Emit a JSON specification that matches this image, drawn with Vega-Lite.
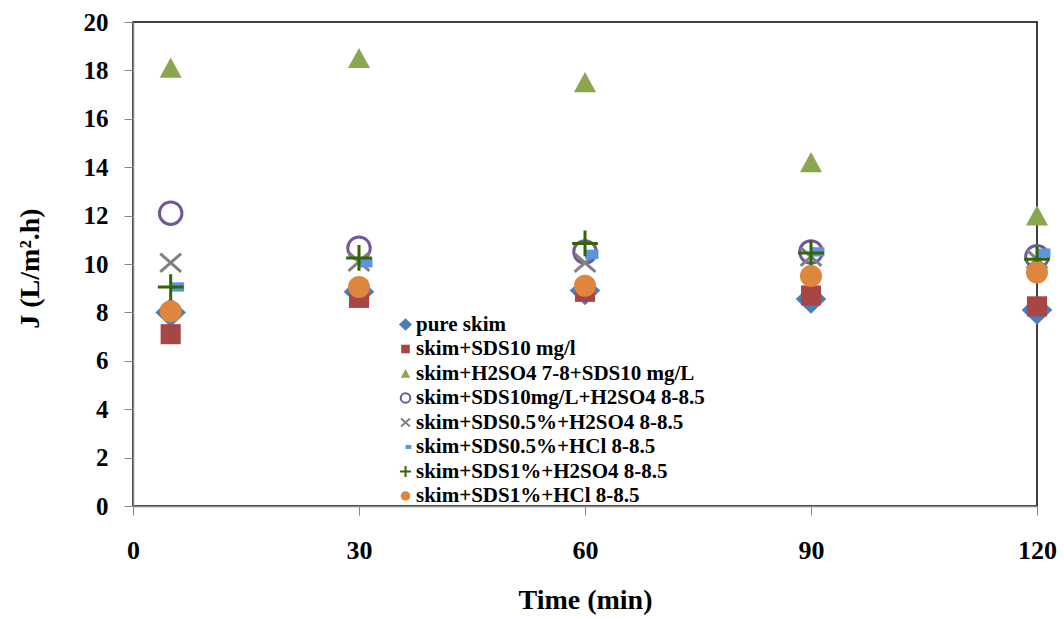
{
  "$schema": "https://vega.github.io/schema/vega-lite/v6.json",
  "autosize": "none",
  "width": 904,
  "height": 484,
  "padding": {"left": 133, "top": 22, "right": 27, "bottom": 113},
  "background": "white",
  "config": {
    "view": {"stroke": "black", "strokeWidth": 1.5},
    "font": "Liberation Serif"
  },
  "data": {
    "values": [
      {"t": 5, "J": 8.0, "s": "pure skim"},
      {"t": 30, "J": 8.85, "s": "pure skim"},
      {"t": 60, "J": 8.9, "s": "pure skim"},
      {"t": 90, "J": 8.55, "s": "pure skim"},
      {"t": 120, "J": 8.1, "s": "pure skim"},
      {"t": 5, "J": 7.1, "s": "skim+SDS10 mg/l"},
      {"t": 30, "J": 8.6, "s": "skim+SDS10 mg/l"},
      {"t": 60, "J": 8.85, "s": "skim+SDS10 mg/l"},
      {"t": 90, "J": 8.7, "s": "skim+SDS10 mg/l"},
      {"t": 120, "J": 8.25, "s": "skim+SDS10 mg/l"},
      {"t": 5, "J": 18.1, "s": "skim+H2SO4 7-8+SDS10 mg/L"},
      {"t": 30, "J": 18.5, "s": "skim+H2SO4 7-8+SDS10 mg/L"},
      {"t": 60, "J": 17.5, "s": "skim+H2SO4 7-8+SDS10 mg/L"},
      {"t": 90, "J": 14.2, "s": "skim+H2SO4 7-8+SDS10 mg/L"},
      {"t": 120, "J": 12.0, "s": "skim+H2SO4 7-8+SDS10 mg/L"},
      {"t": 5, "J": 12.1, "s": "skim+SDS10mg/L+H2SO4 8-8.5"},
      {"t": 30, "J": 10.65, "s": "skim+SDS10mg/L+H2SO4 8-8.5"},
      {"t": 60, "J": 10.5, "s": "skim+SDS10mg/L+H2SO4 8-8.5"},
      {"t": 90, "J": 10.5, "s": "skim+SDS10mg/L+H2SO4 8-8.5"},
      {"t": 120, "J": 10.3, "s": "skim+SDS10mg/L+H2SO4 8-8.5"},
      {"t": 5, "J": 10.05, "s": "skim+SDS0.5%+H2SO4 8-8.5"},
      {"t": 30, "J": 10.1, "s": "skim+SDS0.5%+H2SO4 8-8.5"},
      {"t": 60, "J": 10.05, "s": "skim+SDS0.5%+H2SO4 8-8.5"},
      {"t": 90, "J": 10.3, "s": "skim+SDS0.5%+H2SO4 8-8.5"},
      {"t": 120, "J": 10.2, "s": "skim+SDS0.5%+H2SO4 8-8.5"},
      {"t": 5, "J": 9.05, "s": "skim+SDS0.5%+HCl 8-8.5"},
      {"t": 30, "J": 10.05, "s": "skim+SDS0.5%+HCl 8-8.5"},
      {"t": 60, "J": 10.4, "s": "skim+SDS0.5%+HCl 8-8.5"},
      {"t": 90, "J": 10.5, "s": "skim+SDS0.5%+HCl 8-8.5"},
      {"t": 120, "J": 10.45, "s": "skim+SDS0.5%+HCl 8-8.5"},
      {"t": 5, "J": 9.05, "s": "skim+SDS1%+H2SO4 8-8.5"},
      {"t": 30, "J": 10.25, "s": "skim+SDS1%+H2SO4 8-8.5"},
      {"t": 60, "J": 10.85, "s": "skim+SDS1%+H2SO4 8-8.5"},
      {"t": 90, "J": 10.45, "s": "skim+SDS1%+H2SO4 8-8.5"},
      {"t": 120, "J": 10.2, "s": "skim+SDS1%+H2SO4 8-8.5"},
      {"t": 5, "J": 8.05, "s": "skim+SDS1%+HCl 8-8.5"},
      {"t": 30, "J": 9.05, "s": "skim+SDS1%+HCl 8-8.5"},
      {"t": 60, "J": 9.1, "s": "skim+SDS1%+HCl 8-8.5"},
      {"t": 90, "J": 9.5, "s": "skim+SDS1%+HCl 8-8.5"},
      {"t": 120, "J": 9.65, "s": "skim+SDS1%+HCl 8-8.5"}
    ]
  },
  "mark": {"type": "point", "size": 600, "strokeWidth": 3, "opacity": 1},
  "encoding": {
    "x": {
      "field": "t", "type": "quantitative",
      "scale": {"domain": [0, 120], "nice": false, "zero": false},
      "axis": {
        "values": [0, 30, 60, 90, 120], "grid": false,
        "title": "Time (min)", "titleFont": "Liberation Serif", "titleFontSize": 28, "titleFontWeight": "bold",
        "titleBaseline": "middle", "titleY": 94, "titleColor": "black",
        "labelFont": "Liberation Serif", "labelFontSize": 26, "labelFontWeight": "bold", "labelColor": "black",
        "labelPadding": 22, "labelFlush": false,
        "tickSize": 9, "tickColor": "#868686", "domainColor": "#868686", "domainWidth": 1.5
      }
    },
    "y": {
      "field": "J", "type": "quantitative",
      "scale": {"domain": [0, 20], "nice": false},
      "axis": {
        "values": [0, 2, 4, 6, 8, 10, 12, 14, 16, 18, 20], "grid": false,
        "title": "J (L/m².h)", "titleFont": "Liberation Serif", "titleFontSize": 28, "titleFontWeight": "bold",
        "titleColor": "black", "titleAngle": -90, "titleBaseline": "middle", "titleAlign": "center",
        "titleX": -103, "titleY": 246,
        "labelFont": "Liberation Serif", "labelFontSize": 25, "labelFontWeight": "bold", "labelColor": "black",
        "labelPadding": 16, "labelFlush": false,
        "tickSize": 9, "tickColor": "#868686", "domainColor": "#868686", "domainWidth": 1.5
      }
    },
    "shape": {
      "field": "s", "type": "nominal",
      "scale": {
        "domain": ["pure skim", "skim+SDS10 mg/l", "skim+H2SO4 7-8+SDS10 mg/L", "skim+SDS10mg/L+H2SO4 8-8.5", "skim+SDS0.5%+H2SO4 8-8.5", "skim+SDS0.5%+HCl 8-8.5", "skim+SDS1%+H2SO4 8-8.5", "skim+SDS1%+HCl 8-8.5"],
        "range": [
          "M-1.25,0L0,-1.2L1.25,0L0,1.2Z",
          "M-0.82,-0.82H0.82V0.82H-0.82Z",
          "M0,-0.85L0.9,0.8L-0.9,0.8Z",
          "M0.92,0A0.92,0.92,0,1,1,-0.92,0A0.92,0.92,0,1,1,0.92,0Z",
          "M-0.85,-0.75L0.85,0.75M0.85,-0.75L-0.85,0.75",
          "M0,-0.38H1.1V0.38H0Z",
          "M-1.05,0H1.05M0,-1.05V1.05",
          "M0.9,0A0.9,0.9,0,1,1,-0.9,0A0.9,0.9,0,1,1,0.9,0Z"
        ]
      },
      "legend": {
        "title": null, "orient": "none", "legendX": 262, "legendY": 292,
        "labelFont": "Liberation Serif", "labelFontSize": 21, "labelFontWeight": "bold", "labelColor": "black",
        "labelLimit": 0,
        "symbolSize": 110, "symbolStrokeWidth": 2, "rowPadding": 2.5, "labelOffset": 0, "padding": 0,
        "symbolOpacity": 1
      }
    },
    "fill": {
      "field": "s", "type": "nominal",
      "scale": {
        "domain": ["pure skim", "skim+SDS10 mg/l", "skim+H2SO4 7-8+SDS10 mg/L", "skim+SDS10mg/L+H2SO4 8-8.5", "skim+SDS0.5%+H2SO4 8-8.5", "skim+SDS0.5%+HCl 8-8.5", "skim+SDS1%+H2SO4 8-8.5", "skim+SDS1%+HCl 8-8.5"],
        "range": ["#4A7EBB", "#A84545", "#8AA64E", "transparent", "transparent", "#5B95DB", "transparent", "#DE853E"]
      }
    },
    "stroke": {
      "field": "s", "type": "nominal",
      "scale": {
        "domain": ["pure skim", "skim+SDS10 mg/l", "skim+H2SO4 7-8+SDS10 mg/L", "skim+SDS10mg/L+H2SO4 8-8.5", "skim+SDS0.5%+H2SO4 8-8.5", "skim+SDS0.5%+HCl 8-8.5", "skim+SDS1%+H2SO4 8-8.5", "skim+SDS1%+HCl 8-8.5"],
        "range": ["transparent", "transparent", "transparent", "#71589A", "#808080", "transparent", "#336600", "transparent"]
      }
    }
  }
}
